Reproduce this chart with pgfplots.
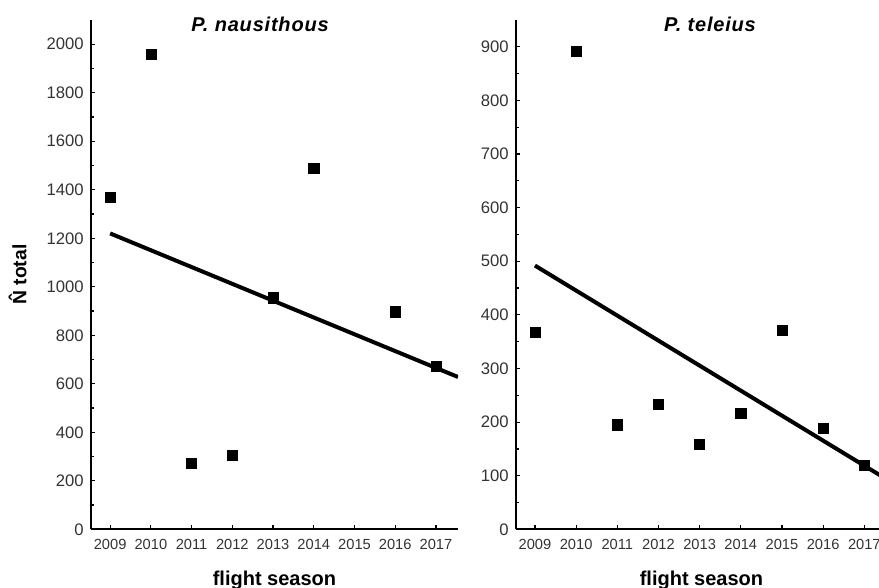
\documentclass[border=0pt]{standalone}
\usepackage{pgfplots}
\pgfplotsset{compat=1.18}
\usepackage{fontspec}
\setmainfont{Liberation Sans}
\begin{document}
\begin{tikzpicture}
\useasboundingbox (0,0) rectangle (659.25pt,441pt);
\pgfplotsset{
  myax/.style={
    scale only axis,
    height=382pt,
    axis lines=left,
    axis line style={-, line width=1.5pt},
    ymin=0,
    xtick={2009,...,2017},
    minor x tick num=3,
    /pgf/number format/assume math mode=true,
    /pgf/number format/1000 sep={},
    xticklabel style={font=\fontsize{11}{12}\selectfont, text=black!80, yshift=-4pt},
    yticklabel style={font=\fontsize{12.5}{14}\selectfont, text=black!80, xshift=-2pt},
    tick style={black, line width=0.9pt},
    major tick length=3pt, minor tick length=2.5pt,
    tick align=inside,
    xlabel={flight season},
    xlabel style={font=\bfseries\fontsize{15}{17}\selectfont, at={(axis description cs:0.5,-0.1)}, anchor=center},
    title style={font=\bfseries\itshape\fontsize{15}{17}\selectfont\addfontfeature{LetterSpace=4}, anchor=center, yshift=-9pt},
  },
  pts/.style={only marks, mark=square*, mark size=3.8pt, mark options={fill=black, draw=none}},
  fit/.style={no marks, line width=3pt, black},
}
\begin{axis}[myax,
  at={(68.25pt,44pt)}, anchor=south west,
  width=275.25pt,
  xmin=2008.53, xmax=2017.54,
  ymax=2100, ytick={0,200,...,2000}, minor y tick num=1,
  title={P. nausithous},
  title style={at={(axis description cs:0.4605,1)}},
  ylabel={\^{N} total},
  ylabel style={font=\bfseries\fontsize{14.5}{16}\selectfont, at={(axis description cs:-0.2,0.5)}, anchor=center},
]
\addplot[pts] coordinates {(2009,1370) (2010,1958) (2011,273) (2012,304) (2013,955) (2014,1489) (2016,897) (2017,672)};
\addplot[fit] coordinates {(2009,1220) (2017.54,628)};
\end{axis}
\begin{axis}[myax,
  at={(387pt,44pt)}, anchor=south west,
  width=278.25pt,
  xmin=2008.54, xmax=2017.55,
  ymax=950, ytick={0,100,...,900}, minor y tick num=1,
  title={P. teleius},
  title style={at={(axis description cs:0.523,1)}},
]
\addplot[pts] coordinates {(2009,368) (2010,892) (2011,195) (2012,234) (2013,159) (2014,216) (2015,372) (2016,188) (2017,119)};
\addplot[fit] coordinates {(2009,492) (2017.55,93)};
\end{axis}
\end{tikzpicture}
\end{document}
